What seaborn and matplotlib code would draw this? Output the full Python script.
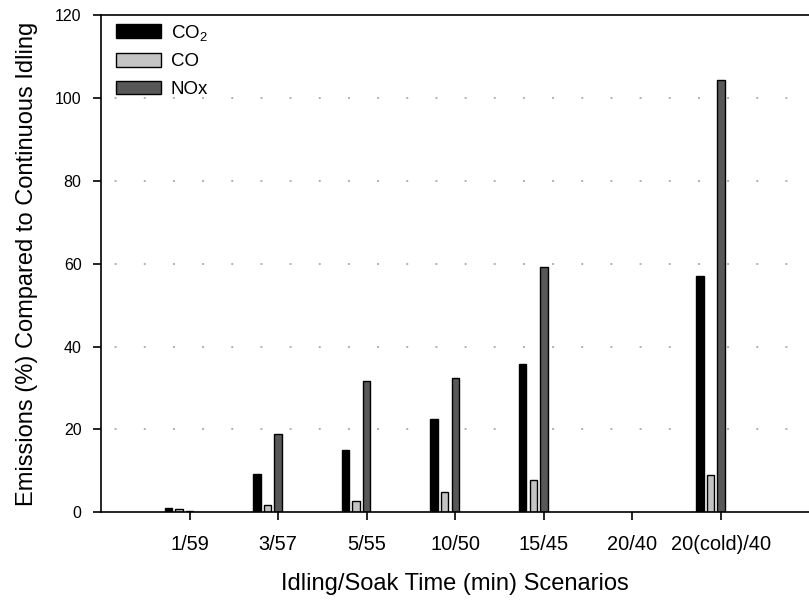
import matplotlib
matplotlib.use("Agg")
import matplotlib.pyplot as plt
import seaborn as sns
import numpy as np
import pandas as pd

# data
scenarios = ["1/59", "3/57", "5/55", "10/50", "15/45", "20/40", "20(cold)/40"]
co2 = [1.1, 9.2, 15.1, 22.4, 35.7, np.nan, 57.0]
co = [0.7, 1.8, 2.7, 4.8, 7.9, np.nan, 9.0]
nox = [0.4, 19.0, 31.8, 32.5, 59.2, np.nan, 104.3]
gases = ["CO$_2$", "CO", "NOx"]
colors = ["#000000", "#c4c4c4", "#585858"]

df = pd.DataFrame({
    "scenario": scenarios * 3,
    "gas": np.repeat(gases, len(scenarios)),
    "value": co2 + co + nox,
})

sns.set_style("ticks")
plt.rcParams["font.family"] = ["Liberation Sans", "DejaVu Sans"]
plt.rcParams["mathtext.default"] = "regular"
for k in ["text.color", "axes.labelcolor", "xtick.color", "ytick.color", "axes.edgecolor"]:
    plt.rcParams[k] = "black"

fig = plt.figure(figsize=(8.09, 6.02), dpi=100)
ax = fig.add_axes([0.1248, 0.149, 0.876, 0.826])

sns.barplot(
    data=df, x="scenario", y="value", hue="gas",
    order=scenarios, hue_order=gases, palette=colors,
    width=0.36, gap=0.3, edgecolor="black", linewidth=1,
    errorbar=None, ax=ax, legend=True,
)

# SigmaPlot style: last bar of each group sits on the tick
for p in ax.patches:
    p.set_x(p.get_x() - 0.12)

ax.set_xlim(-1, 7)
ax.set_ylim(0, 120)
ax.set_yticks(np.arange(0, 121, 20))

for y in range(20, 101, 20):
    ax.axhline(y, color="#b0b0b0", lw=1.4, ls=(8, (1, 14)), zorder=0)

for s in ["left", "bottom", "top"]:
    ax.spines[s].set_linewidth(1.2)
ax.spines["right"].set_visible(False)

ax.tick_params(axis="x", labelsize=14.4, length=6, width=1.2, pad=10, direction="out")
ax.tick_params(axis="y", labelsize=11.5, length=6, width=1.2, pad=8, direction="out")
ax.tick_params(top=False, right=False)

ax.set_xlabel("Idling/Soak Time (min) Scenarios", fontsize=17, labelpad=14)
ax.set_ylabel("Emissions (%) Compared to Continuous Idling", fontsize=17, labelpad=12)

handles, labels = ax.get_legend_handles_labels()
ax.legend(
    handles, labels, loc="upper left", frameon=False, fontsize=13.5,
    handlelength=2.4, handleheight=0.75, labelspacing=0.55,
    handletextpad=0.55, borderaxespad=0.0, bbox_to_anchor=(0.01, 1.0),
)

fig.savefig("out.png", dpi=100)
